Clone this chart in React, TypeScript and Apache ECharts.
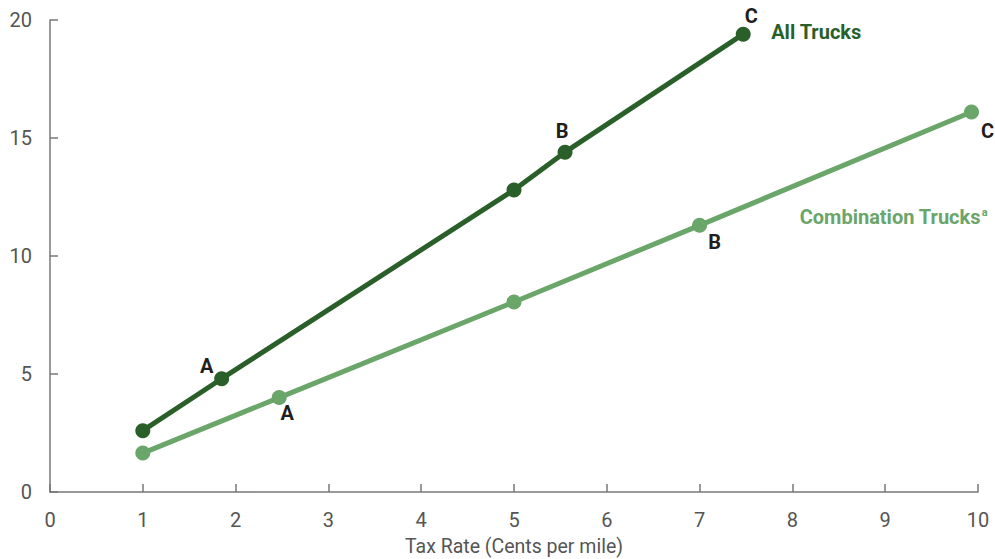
import React, { useEffect, useRef } from "react";
import * as echarts from "echarts";

const allTrucksX = [1, 1.85, 5, 5.55, 7.47];
const allTrucksY = [2.6, 4.8, 12.8, 14.4, 19.4];
const allTrucksLabels = ["", "A", "", "B", "C"];

const comboX = [1, 2.47, 5, 7, 9.93];
const comboY = [1.65, 4.0, 8.05, 11.3, 16.1];
const comboLabels = ["", "A", "", "B", "C"];

const xTicks = [0, 1, 2, 3, 4, 5, 6, 7, 8, 9, 10];
const yTicks = [0, 5, 10, 15, 20];

const DARK = "#2a5f2a";
const LIGHT = "#6aa56a";
const FONT = "Roboto";

const ptLabel = (text: string, offset: number[]) => ({
  show: !!text,
  formatter: text,
  position: "inside",
  offset,
  color: "#1f1f1f",
  fontSize: 20,
  fontWeight: "bold",
  fontFamily: FONT,
});

const darkOffsets: Record<string, number[]> = { A: [-15, -13], B: [-3, -21], C: [8, -18] };
const lightOffsets: Record<string, number[]> = { A: [8, 15], B: [15, 17], C: [16, 19] };

export default function App() {
  const ref = useRef<HTMLDivElement>(null);
  useEffect(() => {
    if (!ref.current) return;
    const chart = echarts.init(ref.current, null, { renderer: "svg" });
    const axisColor = "#777";
    chart.setOption({
      animation: false,
      grid: { left: 50, right: 17, top: 20, bottom: 67, containLabel: false, outerBoundsMode: "none" },
      xAxis: {
        type: "value",
        min: xTicks[0],
        max: xTicks[xTicks.length - 1],
        interval: 1,
        name: "Tax Rate (Cents per mile)",
        nameLocation: "middle",
        nameGap: 44,
        nameTextStyle: { color: "#555", fontSize: 19.5, fontFamily: FONT },
        axisLine: { lineStyle: { color: axisColor, width: 1.5 } },
        axisTick: { inside: true, length: 8, lineStyle: { color: axisColor, width: 1.5 } },
        axisLabel: { color: "#555", fontSize: 20, margin: 18, fontFamily: FONT },
        splitLine: { show: false },
      },
      yAxis: {
        type: "value",
        min: yTicks[0],
        max: yTicks[yTicks.length - 1],
        interval: 5,
        axisLine: { show: true, lineStyle: { color: axisColor, width: 1.5 } },
        axisTick: { show: true, inside: true, length: 8, lineStyle: { color: axisColor, width: 1.5 } },
        axisLabel: { color: "#555", fontSize: 20, margin: 18, fontFamily: FONT },
        splitLine: { show: false },
      },
      series: [
        {
          name: "Combination Trucks",
          type: "line",
          data: comboX.map((x, i) => ({
            value: [x, comboY[i]],
            label: ptLabel(comboLabels[i], lightOffsets[comboLabels[i]] || [0, 0]),
          })),
          symbol: "circle",
          symbolSize: 15,
          itemStyle: { color: LIGHT },
          lineStyle: { color: LIGHT, width: 5 },
          markPoint: {
            symbol: "circle",
            symbolSize: 0,
            data: [
              {
                coord: [comboX[4], comboY[4]],
                label: {
                  show: true,
                  position: "inside",
                  formatter: "{n|Combination Trucks}{s|a}",
                  offset: [-78, 105],
                  rich: {
                    n: { color: LIGHT, fontSize: 20, fontWeight: "bold", fontFamily: FONT },
                    s: { color: LIGHT, fontSize: 11, fontWeight: "bold", fontFamily: FONT, verticalAlign: "top", padding: [0, 0, 10, 1] },
                  },
                },
              },
            ],
          },
        },
        {
          name: "All Trucks",
          type: "line",
          data: allTrucksX.map((x, i) => ({
            value: [x, allTrucksY[i]],
            label: ptLabel(allTrucksLabels[i], darkOffsets[allTrucksLabels[i]] || [0, 0]),
          })),
          symbol: "circle",
          symbolSize: 15,
          itemStyle: { color: DARK },
          lineStyle: { color: DARK, width: 5 },
          markPoint: {
            symbol: "circle",
            symbolSize: 0,
            data: [
              {
                coord: [allTrucksX[4], allTrucksY[4]],
                label: {
                  show: true,
                  position: "inside",
                  formatter: "All Trucks",
                  offset: [73, -2],
                  color: DARK,
                  fontSize: 20,
                  fontWeight: "bold",
                  fontFamily: FONT,
                },
              },
            ],
          },
        },
      ],
    });
    return () => chart.dispose();
  }, []);
  return <div ref={ref} style={{ width: 995, height: 559, position: "absolute", left: 0, top: 0 }} />;
}
